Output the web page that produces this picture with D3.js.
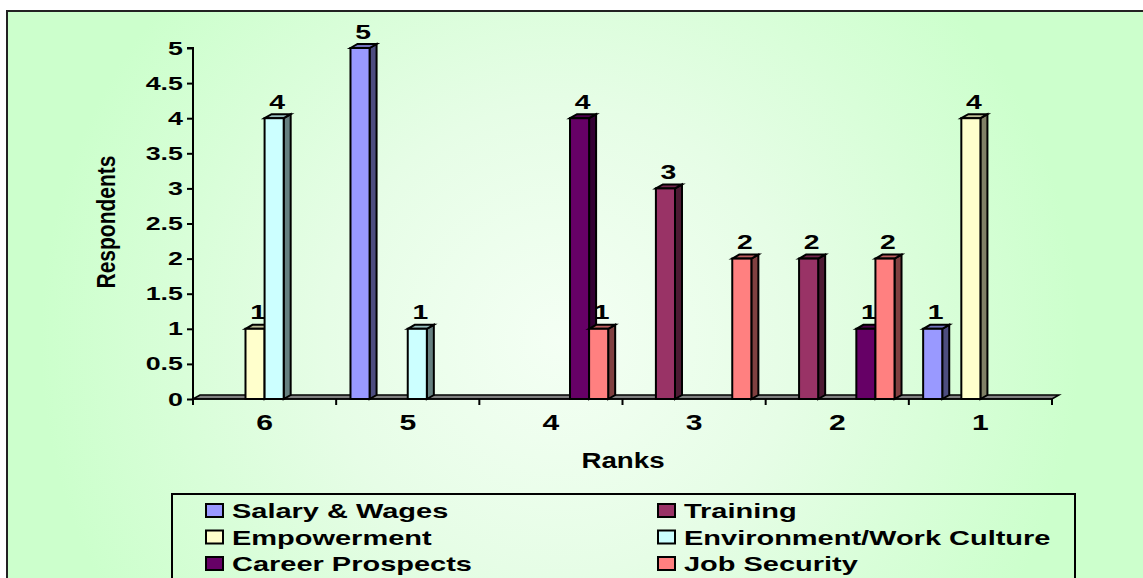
<!DOCTYPE html>
<html>
<head>
<meta charset="utf-8">
<script src="https://cdn.jsdelivr.net/npm/d3@7"></script>
<style>
  body { margin: 0; background: #fff; }
  text { font-family: "Liberation Sans", Arial, sans-serif; font-weight: bold; fill: #000; }
</style>
</head>
<body>
<div id="chart"></div>
<script>
// categories (ranks) and series
var ranks = ["6", "5", "4", "3", "2", "1"];
var seriesNames = ["Salary & Wages", "Training", "Empowerment", "Environment/Work Culture", "Career Prospects", "Job Security"];
var seriesColors = ["#9999ff", "#993366", "#ffffcc", "#ccffff", "#660066", "#ff8080"];

// respondents per rank, null = no bar
var salary      = [null, 5, null, null, null, 1];
var training    = [null, null, null, 3, 2, null];
var empowerment = [1, null, null, null, null, 4];
var environment = [4, 1, null, null, null, null];
var career      = [null, null, 4, null, 1, null];
var jobSecurity = [null, null, 1, 2, 2, null];

var yTicks = [0, 0.5, 1, 1.5, 2, 2.5, 3, 3.5, 4, 4.5, 5];

var values = [salary, training, empowerment, environment, career, jobSecurity];

var width = 1143, height = 578;
var dx = 7, dy = 4; // 3d depth

var svg = d3.select("#chart").append("svg")
  .attr("width", width)
  .attr("height", height);

var defs = svg.append("defs");
var grad = defs.append("radialGradient")
  .attr("id", "bg")
  .attr("gradientUnits", "userSpaceOnUse")
  .attr("cx", 560).attr("cy", 340).attr("r", 520);
grad.append("stop").attr("offset", "0%").attr("stop-color", "#f4fff4");
grad.append("stop").attr("offset", "45%").attr("stop-color", "#e6fde6");
grad.append("stop").attr("offset", "100%").attr("stop-color", "#ccffcc");

// background frame
svg.append("rect")
  .attr("x", 7).attr("y", 11)
  .attr("width", width + 20).attr("height", height + 20)
  .attr("fill", "url(#bg)")
  .attr("stroke", "#222")
  .attr("stroke-width", 2);

// helper for the wide, stretched text of the original
function wideText(g, x, y, str, size, sx, anchor) {
  return g.append("text")
    .attr("transform", "translate(" + x + "," + y + ") scale(" + sx + ",1)")
    .attr("text-anchor", anchor || "start")
    .style("font-size", size + "px")
    .text(str);
}

// scales
var x = d3.scaleBand().domain(ranks).range([193, 1052]).paddingInner(0).paddingOuter(0);
var xs = d3.scaleBand().domain(d3.range(seriesNames.length))
  .range([0, x.bandwidth()]).paddingInner(0).paddingOuter(0.75);
var y = d3.scaleLinear().domain([0, 5]).range([399, 48]);

// floor
svg.append("polygon")
  .attr("points", [[193, y(0)], [193 + dx, y(0) - dy], [1052 + dx, y(0) - dy], [1052, y(0)]].join(" "))
  .attr("fill", "#808080")
  .attr("stroke", "#000")
  .attr("stroke-width", 1.5);

// y axis
var yAxis = d3.axisLeft(y).tickValues(yTicks).tickSize(6).tickFormat(function(d) { return ""; });
var yg = svg.append("g").attr("transform", "translate(193,0)").call(yAxis);
yg.select(".domain").attr("stroke", "#000").attr("stroke-width", 2).attr("d", "M-6," + y(5) + "H0V" + (y(0) + 2));
yg.selectAll(".tick line").attr("stroke", "#000").attr("stroke-width", 2);
yTicks.forEach(function(t) {
  wideText(svg, 183, y(t) + 6.5, String(t), 18.5, 1.45, "end");
});

// x axis ticks at group boundaries
var xg = svg.append("g");
ranks.concat(["end"]).forEach(function(r, i) {
  var xx = i < ranks.length ? x(r) : x.range()[1];
  xg.append("line")
    .attr("x1", xx).attr("x2", xx)
    .attr("y1", y(0)).attr("y2", y(0) + 6)
    .attr("stroke", "#000").attr("stroke-width", 2);
});
svg.append("line")
  .attr("x1", 193).attr("x2", 1052)
  .attr("y1", y(0)).attr("y2", y(0))
  .attr("stroke", "#000").attr("stroke-width", 1.5);

ranks.forEach(function(r) {
  wideText(svg, x(r) + x.bandwidth() / 2, 430, r, 21.5, 1.4, "middle");
});

// bars
function shade(c, k) {
  var col = d3.rgb(c);
  return d3.rgb(col.r * k, col.g * k, col.b * k).toString();
}
var bars = svg.append("g");
ranks.forEach(function(r, ci) {
  seriesNames.forEach(function(s, si) {
    var v = values[si][ci];
    if (v == null) return;
    var x0 = x(r) + xs(si), bw = xs.bandwidth();
    var yt = y(v), yb = y(0);
    var c = seriesColors[si];
    bars.append("polygon")
      .attr("points", [[x0 + bw, yt], [x0 + bw + dx, yt - dy], [x0 + bw + dx, yb - dy], [x0 + bw, yb]].join(" "))
      .attr("fill", shade(c, 0.5)).attr("stroke", "#000").attr("stroke-width", 2);
    bars.append("polygon")
      .attr("points", [[x0, yt], [x0 + dx, yt - dy], [x0 + bw + dx, yt - dy], [x0 + bw, yt]].join(" "))
      .attr("fill", shade(c, 0.75)).attr("stroke", "#000").attr("stroke-width", 2);
    bars.append("rect")
      .attr("x", x0).attr("y", yt)
      .attr("width", bw).attr("height", yb - yt)
      .attr("fill", c).attr("stroke", "#000").attr("stroke-width", 2);
    wideText(bars, x0 + bw / 2 + 3, yt - 9.5, String(v), 21, 1.35, "middle");
  });
});

// axis titles
svg.append("text")
  .attr("transform", "translate(115,222) rotate(-90) scale(1,1.2)")
  .attr("text-anchor", "middle")
  .style("font-size", "21px")
  .text("Respondents");
wideText(svg, 623, 468, "Ranks", 22, 1.26, "middle");

// legend
var lg = svg.append("g");
lg.append("rect")
  .attr("x", 172).attr("y", 494)
  .attr("width", 903).attr("height", 120)
  .attr("fill", "none").attr("stroke", "#000").attr("stroke-width", 2);
seriesNames.forEach(function(s, i) {
  var col = i % 2, row = Math.floor(i / 2);
  var lx = col === 0 ? 206 : 658;
  var ly = 504 + row * 26.5;
  lg.append("rect")
    .attr("x", lx).attr("y", ly)
    .attr("width", 17).attr("height", 13)
    .attr("fill", seriesColors[i]).attr("stroke", "#000").attr("stroke-width", 2);
  wideText(lg, lx + 26, ly + 14, s, 21, 1.38, "start");
});
</script>
</body>
</html>
